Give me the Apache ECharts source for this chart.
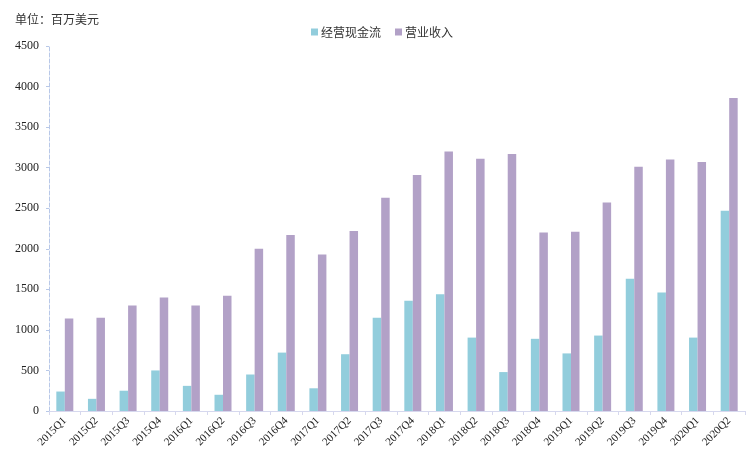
<!DOCTYPE html>
<html>
<head>
<meta charset="utf-8">
<script src="https://cdn.jsdelivr.net/npm/echarts@6/dist/echarts.min.js"></script>
<style>
  html, body { margin: 0; padding: 0; background: #fff; }
  #chart { width: 750px; height: 458px; }
</style>
</head>
<body>
<div id="chart"></div>
<script>
// quarters on the x axis
const quarters = [
  "2015Q1", "2015Q2", "2015Q3", "2015Q4",
  "2016Q1", "2016Q2", "2016Q3", "2016Q4",
  "2017Q1", "2017Q2", "2017Q3", "2017Q4",
  "2018Q1", "2018Q2", "2018Q3", "2018Q4",
  "2019Q1", "2019Q2", "2019Q3", "2019Q4",
  "2020Q1", "2020Q2"
];

// 经营现金流, 百万美元
const cashFlow = [
  240, 150, 250, 500,
  310, 200, 450, 720,
  280, 700, 1150, 1360,
  1440, 905, 480, 890,
  710, 930, 1630, 1460,
  905, 2470
];

// 营业收入, 百万美元
const revenue = [
  1140, 1150, 1300, 1400,
  1300, 1420, 2000, 2170,
  1930, 2220, 2630, 2910,
  3200, 3110, 3170, 2200,
  2210, 2570, 3010, 3100,
  3070, 3860
];

const chart = echarts.init(document.getElementById("chart"));

const serif = "'Liberation Serif', 'DejaVu Serif', serif";
const cjk = "'Noto Sans CJK SC', sans-serif";

const option = {
  backgroundColor: "#fff",
  animation: false,
  title: {
    text: "单位：百万美元",
    left: 10,
    top: 8,
    textStyle: { fontFamily: cjk, fontSize: 12, fontWeight: "normal", color: "#333" }
  },
  legend: {
    top: 21,
    left: 306,
    itemWidth: 7,
    itemHeight: 7,
    itemGap: 14,
    icon: "rect",
    textStyle: { fontFamily: cjk, fontSize: 12, color: "#333", padding: [0, 0, 0, -2] },
    data: ["经营现金流", "营业收入"]
  },
  grid: { left: 49, right: 5, top: 46, bottom: 47, containLabel: false },
  xAxis: {
    type: "category",
    data: quarters,
    axisLine: { lineStyle: { color: "#d6d8ee", width: 1 } },
    axisTick: { show: true, length: 4, lineStyle: { color: "#d6d8ee" } },
    axisLabel: {
      rotate: 45,
      interval: 0,
      margin: 8,
      fontFamily: serif,
      fontSize: 11,
      color: "#222"
    }
  },
  yAxis: {
    type: "value",
    min: 0,
    max: 4500,
    interval: 500,
    axisLine: { show: true, lineStyle: { color: "#b8c8e8", type: "dashed" } },
    axisTick: { show: true, length: 3, lineStyle: { color: "#b8c8e8" } },
    splitLine: { show: false },
    axisLabel: {
      fontFamily: serif,
      fontSize: 12,
      color: "#222",
      margin: 10,
      formatter: (v) => String(v)
    }
  },
  series: [
    {
      name: "经营现金流",
      type: "bar",
      data: cashFlow,
      barWidth: 8.5,
      barGap: "0%",
      itemStyle: { color: "#92cddc" }
    },
    {
      name: "营业收入",
      type: "bar",
      data: revenue,
      barWidth: 8.5,
      itemStyle: { color: "#b2a1c7" }
    }
  ]
};

chart.setOption(option);
</script>
</body>
</html>
